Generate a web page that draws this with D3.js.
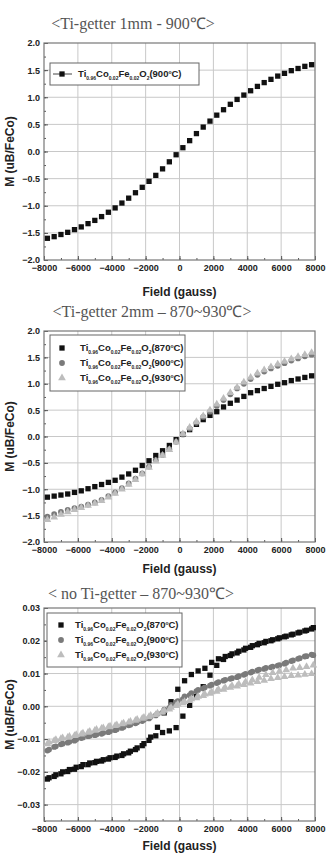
<!DOCTYPE html>
<html>
<head>
<meta charset="utf-8">
<script src="https://cdn.jsdelivr.net/npm/d3@7"></script>
<style>
  body { margin: 0; background: #fff; }
  svg { display: block; }
</style>
</head>
<body>
<div id="chart"></div>
<script>
// field grid (gauss), two sweep directions sampled a bit apart
const fieldA = [-7800,-7400,-7000,-6600,-6200,-5800,-5400,-5000,-4600,-4200,-3800,-3400,-3000,-2600,-2200,-1800,-1400,-1000,-600,-200,
  200,600,1000,1400,1800,2200,2600,3000,3400,3800,4200,4600,5000,5400,5800,6200,6600,7000,7400,7800]
const fieldB = [-7700,-7300,-6900,-6500,-6100,-5700,-5300,-4900,-4500,-4100,-3700,-3300,-2900,-2500,-2100,-1700,-1300,-900,-500,-100,
  300,700,1100,1500,1900,2300,2700,3100,3500,3900,4300,4700,5100,5500,5900,6300,6700,7100,7500,7900]

// panel 1 : Ti-getter 1mm, 900C
const m1mm900 = [-1.60,-1.57,-1.53,-1.49,-1.44,-1.39,-1.33,-1.27,-1.20,-1.12,-1.04,-0.95,-0.86,-0.76,-0.66,-0.55,-0.44,-0.32,-0.19,-0.06,
  0.07,0.20,0.33,0.45,0.56,0.67,0.77,0.87,0.96,1.04,1.12,1.20,1.27,1.33,1.39,1.44,1.49,1.53,1.57,1.60]

// panel 2 : Ti-getter 2mm
const m2mm870 = [-1.15,-1.13,-1.11,-1.09,-1.06,-1.03,-0.99,-0.95,-0.91,-0.87,-0.83,-0.77,-0.71,-0.64,-0.55,-0.46,-0.36,-0.27,-0.17,-0.06,
  0.04,0.13,0.23,0.32,0.40,0.47,0.56,0.63,0.69,0.76,0.83,0.87,0.91,0.95,0.99,1.02,1.06,1.09,1.12,1.15]
const m2mm900 = [-1.52,-1.47,-1.43,-1.39,-1.36,-1.33,-1.29,-1.25,-1.20,-1.13,-1.06,-0.98,-0.89,-0.80,-0.70,-0.57,-0.45,-0.35,-0.24,-0.10,
  0.04,0.15,0.26,0.37,0.47,0.58,0.69,0.80,0.91,1.00,1.09,1.17,1.23,1.29,1.34,1.39,1.44,1.48,1.52,1.55]
const m2mm930 = [-1.58,-1.53,-1.48,-1.43,-1.39,-1.35,-1.31,-1.27,-1.22,-1.15,-1.08,-1.00,-0.91,-0.82,-0.71,-0.59,-0.47,-0.36,-0.25,-0.11,
  0.05,0.17,0.28,0.39,0.50,0.61,0.72,0.83,0.93,1.03,1.12,1.20,1.26,1.32,1.37,1.42,1.47,1.51,1.55,1.59]

// panel 3 : no Ti-getter, both sweep branches
const m0870a = [-0.0222,-0.0214,-0.0206,-0.0199,-0.0192,-0.0184,-0.0178,-0.0172,-0.0167,-0.0161,-0.0156,-0.0150,-0.0142,-0.0132,-0.0120,-0.0104,-0.0090,-0.0080,-0.0075,-0.0065,
  -0.0030,0.0003,0.0030,0.0060,0.0095,0.0125,0.0143,0.0155,0.0163,0.0172,0.0180,0.0188,0.0194,0.0200,0.0206,0.0212,0.0218,0.0224,0.0230,0.0236]
const m0870b = [-0.0218,-0.0209,-0.0200,-0.0193,-0.0186,-0.0178,-0.0173,-0.0168,-0.0163,-0.0157,-0.0152,-0.0145,-0.0137,-0.0127,-0.0114,-0.0094,-0.0064,-0.0020,0.0014,0.0052,
  0.0078,0.0097,0.0108,0.0116,0.0134,0.0145,0.0152,0.0160,0.0168,0.0177,0.0185,0.0192,0.0198,0.0203,0.0209,0.0214,0.0220,0.0226,0.0232,0.0240]
const m0900a = [-0.0135,-0.0124,-0.0116,-0.0111,-0.0105,-0.0097,-0.0091,-0.0088,-0.0084,-0.0079,-0.0073,-0.0066,-0.0058,-0.0052,-0.0045,-0.0037,-0.0028,-0.0019,-0.0005,0.0012,
  0.0022,0.0034,0.0046,0.0054,0.0063,0.0071,0.0078,0.0084,0.0089,0.0096,0.0103,0.0110,0.0114,0.0119,0.0124,0.0130,0.0138,0.0145,0.0152,0.0158]
const m0900b = [-0.0132,-0.0122,-0.0114,-0.0108,-0.0101,-0.0095,-0.0090,-0.0086,-0.0081,-0.0076,-0.0070,-0.0063,-0.0056,-0.0049,-0.0041,-0.0032,-0.0022,-0.0010,0.0004,0.0016,
  0.0030,0.0040,0.0050,0.0058,0.0066,0.0074,0.0081,0.0086,0.0092,0.0099,0.0106,0.0112,0.0117,0.0121,0.0126,0.0133,0.0140,0.0147,0.0153,0.0156]
const m0930a = [-0.0115,-0.0105,-0.0099,-0.0095,-0.0090,-0.0085,-0.0080,-0.0074,-0.0068,-0.0063,-0.0059,-0.0054,-0.0049,-0.0043,-0.0037,-0.0032,-0.0026,-0.0018,-0.0009,0.0002,
  0.0010,0.0018,0.0025,0.0032,0.0039,0.0045,0.0051,0.0057,0.0061,0.0066,0.0070,0.0075,0.0079,0.0084,0.0087,0.0090,0.0093,0.0095,0.0097,0.0099]
const m0930b = [-0.0110,-0.0102,-0.0097,-0.0092,-0.0087,-0.0082,-0.0077,-0.0071,-0.0066,-0.0061,-0.0057,-0.0052,-0.0046,-0.0040,-0.0034,-0.0028,-0.0021,-0.0013,-0.0004,0.0006,
  0.0014,0.0022,0.0030,0.0037,0.0044,0.0051,0.0057,0.0063,0.0068,0.0074,0.0080,0.0088,0.0096,0.0102,0.0107,0.0111,0.0116,0.0118,0.0121,0.0125]

const xTicks = [-8000,-6000,-4000,-2000,0,2000,4000,6000,8000]
const yTicks1 = [-2.0,-1.5,-1.0,-0.5,0.0,0.5,1.0,1.5,2.0]
const yTicks3 = [-0.03,-0.02,-0.01,0.00,0.01,0.02,0.03]

const W = 331, H = 853
const L = 44, R = 315

const svg = d3.select('#chart').append('svg')
  .attr('width', W)
  .attr('height', H)
svg.append('rect').attr('width', W).attr('height', H).attr('fill', '#fff')

const BLACK = '#111', GRAY = '#7a7a7a', LIGHT = '#bdbdbd'

const panels = [
  {
    top: 43, bottom: 260, yDomain: [-2, 2], yTicks: yTicks1, yMinor: 0.25, fmt: d3.format('.1f'),
    title: '<Ti-getter 1mm - 900\u2103>', titleX: 133, titleY: 29, xLabelY: 296,
    series: [{ temp: '900', color: BLACK, shape: 'square', sets: [[fieldA, m1mm900]] }],
    legend: { x: 50, y: 63, w: 149, h: 22, line: true, symX: 62, textX: 78, rowH: 15 }
  },
  {
    top: 331, bottom: 542, yDomain: [-2, 2], yTicks: yTicks1, yMinor: 0.25, fmt: d3.format('.1f'),
    title: '<Ti-getter 2mm \u2013 870~930\u2103>', titleX: 152, titleY: 317, xLabelY: 573,
    series: [
      { temp: '870', color: BLACK, shape: 'square', sets: [[fieldA, m2mm870]] },
      { temp: '900', color: GRAY, shape: 'circle', sets: [[fieldA, m2mm900]] },
      { temp: '930', color: LIGHT, shape: 'triangle', sets: [[fieldA, m2mm930]] }
    ],
    legend: { x: 50, y: 335, w: 135, h: 56, line: false, symX: 62, textX: 80, rowH: 15 }
  },
  {
    top: 608, bottom: 821, yDomain: [-0.035, 0.03], yTicks: yTicks3, yMinor: 0.005, fmt: d3.format('.2f'),
    title: '< no Ti-getter \u2013 870~930\u2103>', titleX: 141, titleY: 599, xLabelY: 850,
    series: [
      { temp: '870', color: BLACK, shape: 'square', sets: [[fieldA, m0870a], [fieldB, m0870b]] },
      { temp: '900', color: GRAY, shape: 'circle', sets: [[fieldA, m0900a], [fieldB, m0900b]] },
      { temp: '930', color: LIGHT, shape: 'triangle', sets: [[fieldA, m0930a], [fieldB, m0930b]] }
    ],
    legend: { x: 47, y: 613, w: 135, h: 54, line: false, symX: 61, textX: 75, rowH: 15 }
  }
]

const symbolFor = {
  square: d3.symbol().type(d3.symbolSquare).size(28),
  circle: d3.symbol().type(d3.symbolCircle).size(26),
  triangle: d3.symbol().type(d3.symbolTriangle).size(26)
}

function legendLabel(sel, temp) {
  const t = sel.append('text')
    .attr('font-family', 'Liberation Sans, Arial, sans-serif')
    .attr('font-weight', 'bold')
    .attr('font-size', 9.5)
    .attr('fill', '#222')
  const parts = [['Ti', 0], ['0.96', 1], ['Co', 0], ['0.02', 1], ['Fe', 0], ['0.02', 1], ['O', 0], ['2', 1], ['(' + temp, 0], ['o', 2], ['C)', 0]]
  let shift = 0
  parts.forEach(p => {
    let target = p[1] == 1 ? 2.5 : (p[1] == 2 ? -3.5 : 0)
    t.append('tspan')
      .attr('dy', target - shift)
      .attr('font-size', p[1] ? 5 : 9.5)
      .text(p[0])
    shift = target
  })
  return t
}

panels.forEach(p => {
  const x = d3.scaleLinear().domain([-8000, 8000]).range([L, R])
  const y = d3.scaleLinear().domain(p.yDomain).range([p.bottom, p.top])
  const g = svg.append('g')

  // grid
  g.selectAll('.vgrid').data(xTicks.slice(1, -1)).enter().append('line')
    .attr('x1', d => x(d)).attr('x2', d => x(d))
    .attr('y1', p.top).attr('y2', p.bottom)
    .attr('stroke', '#c8c8c8').attr('stroke-width', 1)
  g.selectAll('.hgrid').data(p.yTicks.filter(d => y(d) > p.top + 1 && y(d) < p.bottom - 1)).enter().append('line')
    .attr('x1', L).attr('x2', R)
    .attr('y1', d => y(d)).attr('y2', d => y(d))
    .attr('stroke', '#c8c8c8').attr('stroke-width', 1)

  // axes with inward ticks
  const yMinorTicks = d3.range(p.yDomain[0], p.yDomain[1] + 1e-9, p.yMinor)
  g.append('g').attr('transform', `translate(${L},0)`)
    .call(d3.axisLeft(y).tickValues(yMinorTicks).tickSize(-2).tickFormat(''))
    .call(a => a.select('.domain').remove())
    .selectAll('line').attr('stroke', '#555')
  g.append('g').attr('transform', `translate(0,${p.bottom})`)
    .call(d3.axisBottom(x).tickValues(d3.range(-8000, 8001, 1000)).tickSize(-2).tickFormat(''))
    .call(a => a.select('.domain').remove())
    .selectAll('line').attr('stroke', '#555')

  const yAxis = g.append('g').attr('transform', `translate(${L},0)`)
    .call(d3.axisLeft(y).tickValues(p.yTicks).tickSize(-4).tickPadding(4).tickFormat(p.fmt))
  yAxis.select('.domain').remove()
  yAxis.selectAll('line').attr('stroke', '#555')
  yAxis.selectAll('text')
    .attr('font-family', 'Liberation Sans, Arial, sans-serif')
    .attr('font-weight', 'bold').attr('font-size', 9).attr('fill', '#222')

  const xAxis = g.append('g').attr('transform', `translate(0,${p.bottom})`)
    .call(d3.axisBottom(x).tickValues(xTicks).tickSize(-4).tickPadding(5).tickFormat(d3.format('d')))
  xAxis.select('.domain').remove()
  xAxis.selectAll('line').attr('stroke', '#555')
  xAxis.selectAll('text')
    .attr('font-family', 'Liberation Sans, Arial, sans-serif')
    .attr('font-weight', 'bold').attr('font-size', 9).attr('fill', '#222')

  // frame
  g.append('rect')
    .attr('x', L).attr('y', p.top)
    .attr('width', R - L).attr('height', p.bottom - p.top)
    .attr('fill', 'none').attr('stroke', '#777').attr('stroke-width', 1.2)

  // data points
  p.series.forEach(s => {
    s.sets.forEach(set => {
      const pts = set[0].map((f, i) => [f, set[1][i]])
      g.selectAll(null).data(pts).enter().append('path')
        .attr('d', symbolFor[s.shape])
        .attr('transform', d => `translate(${x(d[0])},${y(d[1])})`)
        .attr('fill', s.color)
    })
  })

  // legend
  const lg = g.append('g')
  lg.append('rect')
    .attr('x', p.legend.x).attr('y', p.legend.y)
    .attr('width', p.legend.w).attr('height', p.legend.h)
    .attr('fill', '#fff').attr('stroke', '#666').attr('stroke-width', 1)
  p.series.forEach((s, i) => {
    const cy = p.legend.y + (p.legend.h - p.legend.rowH * p.series.length) / 2 + p.legend.rowH * (i + 0.5)
    if (p.legend.line) {
      lg.append('line')
        .attr('x1', p.legend.x + 3).attr('x2', p.legend.x + 22)
        .attr('y1', cy).attr('y2', cy)
        .attr('stroke', '#444').attr('stroke-width', 1)
    }
    lg.append('path')
      .attr('d', symbolFor[s.shape])
      .attr('transform', `translate(${p.legend.symX},${cy})`)
      .attr('fill', s.color)
    legendLabel(lg, s.temp)
      .attr('x', p.legend.textX).attr('y', cy + 3)
  })

  // labels
  svg.append('text')
    .attr('x', p.titleX).attr('y', p.titleY)
    .attr('text-anchor', 'middle')
    .attr('font-family', 'Liberation Serif, Times New Roman, serif')
    .attr('font-size', 16).attr('fill', '#555')
    .text(p.title)
  svg.append('text')
    .attr('transform', `translate(14,${(p.top + p.bottom) / 2}) rotate(-90)`)
    .attr('text-anchor', 'middle')
    .attr('font-family', 'Liberation Sans, Arial, sans-serif')
    .attr('font-weight', 'bold').attr('font-size', 12).attr('fill', '#222')
    .text('M (uB/FeCo)')
  svg.append('text')
    .attr('x', (L + R) / 2).attr('y', p.xLabelY)
    .attr('text-anchor', 'middle')
    .attr('font-family', 'Liberation Sans, Arial, sans-serif')
    .attr('font-weight', 'bold').attr('font-size', 12).attr('fill', '#222')
    .text('Field (gauss)')
})
</script>
</body>
</html>
